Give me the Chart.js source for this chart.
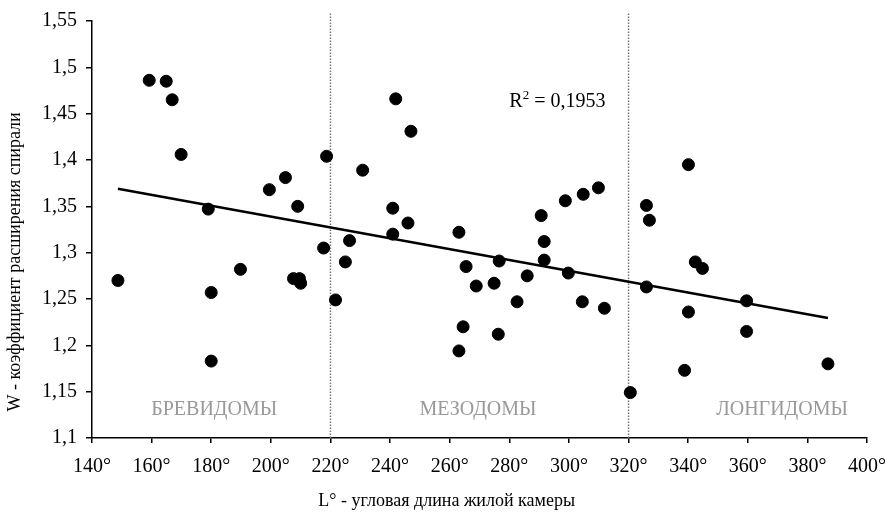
<!DOCTYPE html>
<html>
<head>
<meta charset="utf-8">
<script src="https://cdn.jsdelivr.net/npm/chart.js@4/dist/chart.umd.min.js"></script>
<style>
  html, body { margin: 0; padding: 0; background: #fff; }
  #wrap { width: 889px; height: 512px; }
</style>
</head>
<body>
<div id="wrap"><canvas id="chart"></canvas></div>
<script>
// L° - angular length, W - spiral expansion coefficient
const lengthDeg = [148.7, 159.2, 164.9, 166.9, 169.9, 179.0, 180.0, 180.0, 189.8, 199.5,
    204.9, 209.0, 207.6, 209.6, 210.0, 218.7, 217.7, 221.7, 225.0, 226.4,
    230.8, 241.9, 240.9, 240.9, 246.0, 247.0, 263.1, 263.1, 264.5, 265.5,
    268.9, 274.9, 276.3, 276.6, 282.6, 286.0, 290.7, 291.7, 291.7, 298.8,
    299.8, 304.5, 304.8, 309.9, 311.9, 320.6, 326.0, 326.0, 327.0, 340.1,
    340.1, 338.8, 342.4, 344.8, 359.6, 359.6, 386.9];
const wCoef = [1.270, 1.486, 1.485, 1.465, 1.406, 1.347, 1.257, 1.183, 1.282, 1.368,
    1.381, 1.350, 1.272, 1.272, 1.267, 1.404, 1.305, 1.249, 1.290, 1.313,
    1.389, 1.466, 1.348, 1.320, 1.332, 1.431, 1.322, 1.194, 1.220, 1.285,
    1.264, 1.267, 1.212, 1.291, 1.247, 1.275, 1.340, 1.312, 1.292, 1.356,
    1.278, 1.247, 1.363, 1.370, 1.240, 1.149, 1.263, 1.351, 1.335, 1.395,
    1.236, 1.173, 1.290, 1.283, 1.248, 1.215, 1.180];

// trend line end points
const trendX = [148.7, 386.9];
const trendY = [1.369, 1.2295];

// group boundaries and names
const bounds = [220, 320];
const groupNames = ['БРЕВИДОМЫ', 'МЕЗОДОМЫ', 'ЛОНГИДОМЫ'];
const groupCenters = [181, 269.5, 371.5];
const r2Text = '0,1953';

const xTitle = 'L° - угловая длина жилой камеры';
const yTitle = 'W - коэффициент расширения спирали';

const serif = '"Liberation Serif", "Times New Roman", serif';

const points = lengthDeg.map((x, i) => ({ x: x, y: wCoef[i] }));

const datasets = [
    {
        type: 'scatter',
        data: points,
        backgroundColor: '#000',
        borderColor: '#000',
        pointRadius: 6,
        pointHoverRadius: 6,
    },
    {
        type: 'line',
        data: trendX.map((x, i) => ({ x: x, y: trendY[i] })),
        borderColor: '#000',
        borderWidth: 2.5,
        pointRadius: 0,
        fill: false,
    },
];
bounds.forEach(b => {
    datasets.push({
        type: 'line',
        data: [{ x: b, y: 1.1 }, { x: b, y: 1.559 }],
        borderColor: '#777',
        borderWidth: 1.5,
        borderDash: [1.5, 1.5],
        pointRadius: 0,
        clip: false,
    });
});

// texts inside the plot and the axis titles (placed off-centre like the original)
const labelsPlugin = {
    id: 'labels',
    afterDatasetsDraw(chart) {
        const ctx = chart.ctx;
        const xs = chart.scales.x, ys = chart.scales.y;
        ctx.save();
        ctx.fillStyle = '#999';
        ctx.font = '20px ' + serif;
        ctx.textAlign = 'center';
        ctx.textBaseline = 'middle';
        groupNames.forEach((n, i) => {
            ctx.fillText(n, xs.getPixelForValue(groupCenters[i]), ys.getPixelForValue(1.13));
        });
        // R^2 label
        ctx.fillStyle = '#000';
        ctx.textAlign = 'left';
        ctx.textBaseline = 'alphabetic';
        let x = xs.getPixelForValue(280);
        const y = ys.getPixelForValue(1.457);
        ctx.font = '20px ' + serif;
        ctx.fillText('R', x, y);
        x += ctx.measureText('R').width;
        ctx.font = '13px ' + serif;
        ctx.fillText('2', x, y - 8);
        x += ctx.measureText('2').width;
        ctx.font = '20px ' + serif;
        ctx.fillText(' = ' + r2Text, x, y);

        // axis titles
        ctx.font = '18px ' + serif;
        ctx.textAlign = 'center';
        ctx.textBaseline = 'middle';
        ctx.fillText(xTitle, xs.getPixelForValue(259), 501);
        ctx.translate(15, ys.getPixelForValue(1.29));
        ctx.rotate(-Math.PI / 2);
        ctx.fillText(yTitle, 0, 0);
        ctx.restore();
    }
};

new Chart(document.getElementById('chart').getContext('2d'), {
    data: { datasets: datasets },
    options: {
        responsive: true,
        maintainAspectRatio: false,
        animation: false,
        layout: { padding: { top: 11, right: 2, left: 33, bottom: 21 } },
        plugins: {
            legend: { display: false },
            tooltip: { enabled: false },
        },
        scales: {
            x: {
                type: 'linear',
                min: 140,
                max: 400,
                afterFit: scale => { scale.paddingRight = 22; },
                border: { display: true, color: '#000', width: 1.5 },
                grid: { display: true, drawOnChartArea: false, drawTicks: true, tickLength: 5, color: '#000', lineWidth: 1.5 },
                ticks: {
                    stepSize: 20,
                    color: '#000',
                    font: { family: serif, size: 20 },
                    padding: 12,
                    maxRotation: 0,
                    callback: v => v + '°',
                },
            },
            y: {
                min: 1.1,
                max: 1.55,
                border: { display: true, color: '#000', width: 1.5 },
                grid: { display: true, drawOnChartArea: false, drawTicks: true, tickLength: 6, color: '#000', lineWidth: 1.5 },
                ticks: {
                    stepSize: 0.05,
                    color: '#000',
                    font: { family: serif, size: 20 },
                    padding: 9,
                    callback: v => (Math.round(v * 100) / 100).toString().replace('.', ','),
                },
            },
        },
    },
    plugins: [labelsPlugin],
});
</script>
</body>
</html>
